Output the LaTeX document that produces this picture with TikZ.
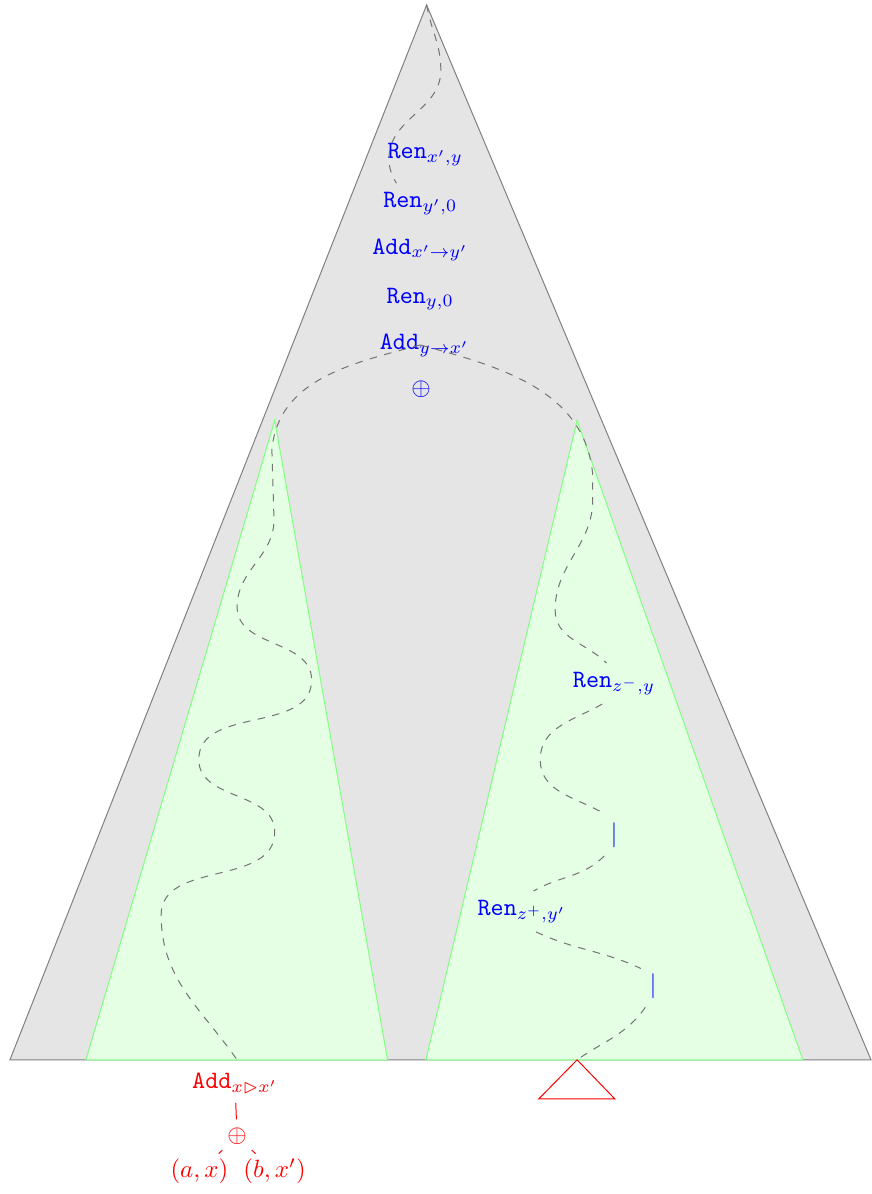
\documentclass[tikz,border=0pt]{standalone}
\usepackage{amssymb}
\begin{document}
\begin{tikzpicture}[
  lab/.style={text=blue},
  redlab/.style={text=red},
  trace/.style={dashed, black!55},
  subtree/.style={draw=green!50, fill=green!10}]
  \useasboundingbox (0,-1.89) rectangle (12.28,14.93);
  \filldraw[fill=gray!20, draw=gray] (0.14,0) -- (6.01,14.86) -- (12.27,0) -- cycle;
  \filldraw[subtree] (1.21,0) -- (3.87,9.01) -- (5.46,0) -- cycle;
  \filldraw[subtree] (6.00,0) -- (8.13,9.01) -- (11.31,0) -- cycle;
  \draw[red] (8.13,0) -- (7.59,-0.55) -- (8.66,-0.55) -- cycle;
  \coordinate (top) at (6.01,14.86);
  \coordinate (split) at (5.92,10.07);
  \coordinate (lend) at (3.34,0);
  \coordinate (rend) at (8.13,0);
  \node[lab, anchor=base] (ren1) at (5.99,12.70) {\texttt{Ren}$_{x',y}$};
  \node[lab, anchor=base] (ren2) at (5.92,12.01) {\texttt{Ren}$_{y',0}$};
  \node[lab, anchor=base] (add1) at (5.92,11.35) {\texttt{Add}$_{x'\to y'}$};
  \node[lab, anchor=base] (ren3) at (5.92,10.66) {\texttt{Ren}$_{y,0}$};
  \node[lab, anchor=base] (add2) at (5.98,10.00) {\texttt{Add}$_{y\to x'}$};
  \node[lab] (sum) at (5.93,9.44) {$\oplus$};
  \node[lab, anchor=base] (renzm) at (8.65,5.25) {\texttt{Ren}$_{z^-,y}$};
  \node[lab] (bar1) at (8.65,3.17) {$|$};
  \node[lab, anchor=base] (renzp) at (7.35,2.04) {\texttt{Ren}$_{z^+,y'}$};
  \node[lab] (bar2) at (9.20,1.04) {$|$};
  \node[redlab, anchor=base] (addl) at (3.31,-0.41) {\texttt{Add}$_{x\rhd x'}$};
  \node[redlab] (sumr) at (3.34,-1.08) {$\oplus$};
  \node[redlab, anchor=base] (ax) at (2.81,-1.66) {$(a,x)$};
  \node[redlab, anchor=base] (bx) at (3.87,-1.66) {$(b,x')$};
  \draw[red] (addl) -- (sumr);
  \draw[red] (sumr) -- (ax);
  \draw[red] (sumr) -- (bx);
  \draw[trace] (top) to[out=-80,in=90] (6.21,13.94) to[out=-90,in=90] (5.48,12.70) to[out=-90,in=120] (ren2.140);
  \draw[trace] (split) to[out=-165,in=85] (3.83,8.59) -- (3.86,7.61) to[out=-90,in=90] (3.34,6.38) to[out=-90,in=90] (4.39,5.35) to[out=-90,in=90] (2.80,4.23) to[out=-90,in=90] (3.87,3.21) to[out=-90,in=90] (2.27,2.04) to[out=-90,in=125] (lend);
  \draw[trace] (split) to[out=-15,in=95] (8.35,8.24) -- (8.35,7.89) to[out=-90,in=90] (7.82,6.34) to[out=-90,in=135] (renzm.110);
  \draw[trace] (renzm.-120) to[out=-150,in=90] (7.61,4.23) to[out=-90,in=150] (bar1.115);
  \draw[trace] (bar1.-115) to[out=-135,in=30] (renzp.60);
  \draw[trace] (renzp.-55) to[out=-25,in=155] (bar2.125);
  \draw[trace] (bar2.-110) to[out=-125,in=35] (rend);
\end{tikzpicture}
\end{document}
